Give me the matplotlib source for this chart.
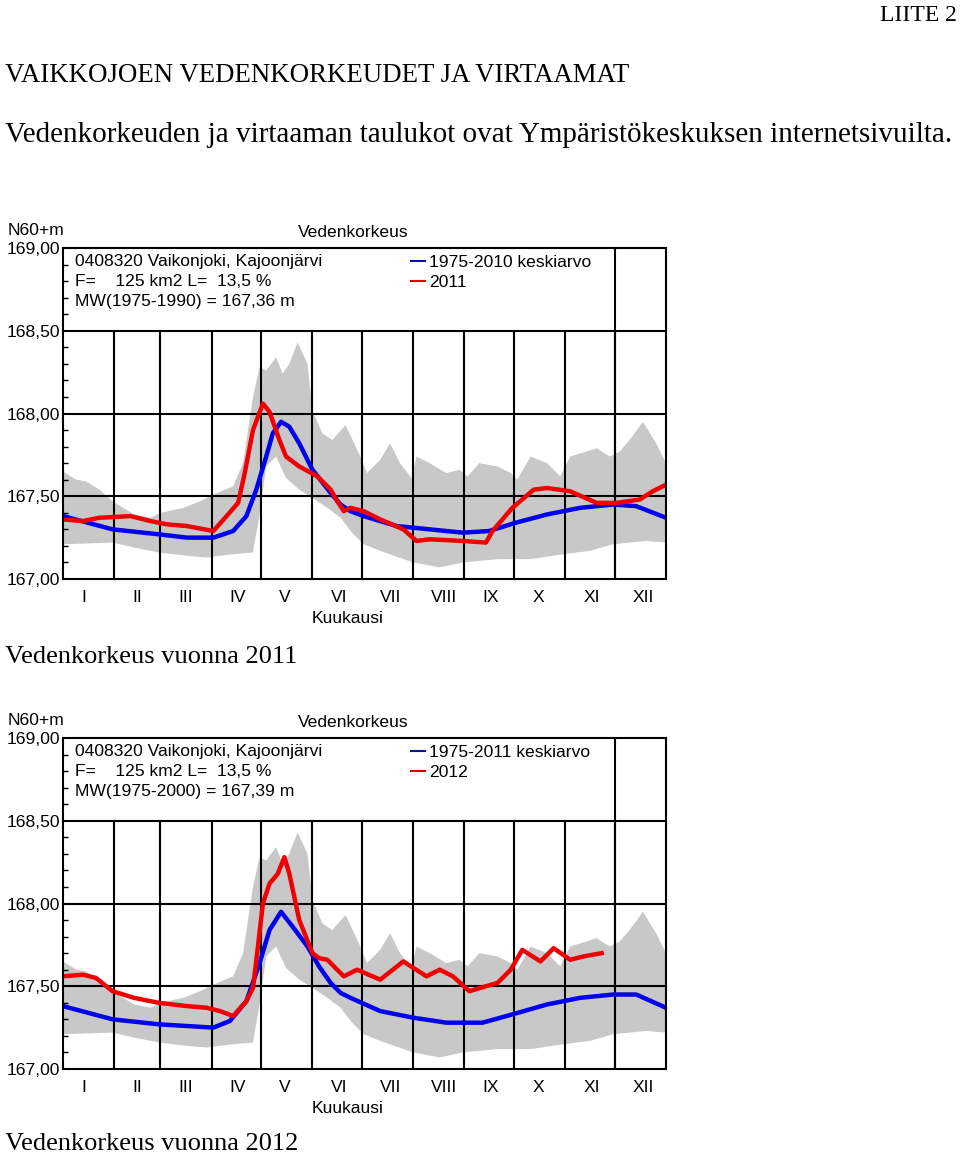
import matplotlib.pyplot as plt
from matplotlib.lines import Line2D
from matplotlib.ticker import MultipleLocator
import numpy as np

# month starts (day of year) and labels
month_start = [0, 31, 59, 90, 120, 151, 181, 212, 243, 273, 304, 334, 365]
month_lab = ["I", "II", "III", "IV", "V", "VI", "VII", "VIII", "IX", "X", "XI", "XII"]
ytick_vals = [167.0, 167.5, 168.0, 168.5, 169.0]
ytick_lab = ["167,00", "167,50", "168,00", "168,50", "169,00"]

# min/max envelope (grey), same in both charts
up_day = [0, 8, 14, 22, 30, 43, 53, 59, 73, 83, 91, 103, 109, 115, 119, 123, 129, 133,
          137, 142, 148, 151, 157, 163, 171, 180, 184, 192, 198, 204, 211, 214, 222,
          232, 240, 245, 252, 263, 271, 275, 283, 293, 301, 307, 323, 331, 337, 343,
          351, 359, 365]
up_val = [167.65, 167.60, 167.59, 167.54, 167.47, 167.39, 167.37, 167.40, 167.43, 167.47,
          167.51, 167.56, 167.70, 168.10, 168.28, 168.26, 168.34, 168.24, 168.30, 168.43,
          168.30, 168.02, 167.88, 167.84, 167.93, 167.74, 167.64, 167.72, 167.82, 167.70,
          167.61, 167.74, 167.70, 167.64, 167.66, 167.62, 167.70, 167.68, 167.64, 167.60,
          167.74, 167.70, 167.62, 167.74, 167.79, 167.74, 167.77, 167.84, 167.95, 167.82,
          167.70]
lo_day = [0, 30, 43, 58, 75, 87, 103, 115, 119, 123, 129, 135, 143, 151, 160, 168, 175,
          182, 192, 212, 228, 242, 263, 283, 303, 319, 333, 353, 365]
lo_val = [167.21, 167.22, 167.19, 167.16, 167.14, 167.13, 167.15, 167.16, 167.39, 167.68,
          167.74, 167.61, 167.54, 167.49, 167.43, 167.37, 167.28, 167.21, 167.17, 167.10,
          167.07, 167.10, 167.12, 167.12, 167.15, 167.17, 167.21, 167.23, 167.22]

# chart 1: mean 1975-2010 and year 2011
mean1_day = [0, 30, 58, 75, 91, 103, 111, 117, 123, 127, 132, 137, 143, 151, 162, 168,
             174, 182, 202, 222, 242, 258, 274, 293, 313, 333, 347, 365]
mean1_val = [167.38, 167.30, 167.27, 167.25, 167.25, 167.29, 167.38, 167.54, 167.74,
             167.88, 167.95, 167.92, 167.82, 167.66, 167.52, 167.45, 167.41, 167.38,
             167.32, 167.30, 167.28, 167.29, 167.34, 167.39, 167.43, 167.45, 167.44,
             167.37]
y2011_day = [0, 12, 22, 41, 53, 63, 75, 91, 99, 106, 110, 115, 121, 125, 131, 135, 143,
             154, 162, 166, 170, 174, 182, 192, 206, 214, 222, 242, 256, 260, 272, 285,
             293, 307, 323, 335, 349, 357, 365]
y2011_val = [167.36, 167.35, 167.37, 167.38, 167.35, 167.33, 167.32, 167.29, 167.38,
             167.46, 167.64, 167.90, 168.06, 168.01, 167.84, 167.74, 167.68, 167.62,
             167.54, 167.47, 167.41, 167.43, 167.41, 167.36, 167.30, 167.23, 167.24,
             167.23, 167.22, 167.29, 167.43, 167.54, 167.55, 167.53, 167.46, 167.46,
             167.48, 167.53, 167.57]

# chart 2: mean 1975-2011 and year 2012
mean2_day = [0, 30, 58, 91, 101, 111, 119, 125, 132, 139, 148, 155, 162, 168, 174, 192,
             212, 232, 254, 272, 293, 313, 333, 347, 365]
mean2_val = [167.38, 167.30, 167.27, 167.25, 167.29, 167.41, 167.64, 167.84, 167.95,
             167.86, 167.74, 167.62, 167.52, 167.46, 167.43, 167.35, 167.31, 167.28,
             167.28, 167.33, 167.39, 167.43, 167.45, 167.45, 167.37]
y2012_day = [0, 12, 20, 30, 43, 58, 75, 87, 95, 103, 111, 115, 118, 121, 125, 130, 134,
             137, 143, 151, 155, 160, 166, 170, 178, 192, 206, 220, 228, 236, 246, 256,
             263, 271, 278, 289, 297, 307, 315, 326]
y2012_val = [167.56, 167.57, 167.55, 167.47, 167.43, 167.40, 167.38, 167.37, 167.35,
             167.32, 167.41, 167.49, 167.74, 168.00, 168.12, 168.18, 168.28, 168.18,
             167.90, 167.70, 167.67, 167.66, 167.60, 167.56, 167.60, 167.54, 167.65,
             167.56, 167.60, 167.56, 167.47, 167.50, 167.52, 167.60, 167.72, 167.65,
             167.73, 167.66, 167.68, 167.70]

W, H = 960, 1155
SERIF = "Liberation Serif"
SANS = "Liberation Sans"
FS = 12.6

fig = plt.figure(figsize=(W / 100, H / 100), dpi=100)


def fx(x):
    return x / W


def fy(y):
    return 1 - y / H


def draw_chart(top, mean_d, mean_v, yr_d, yr_v, mean_lab, yr_lab, mw_txt):
    ax = fig.add_axes([fx(63), fy(top + 331), 603 / W, 331 / H])
    ax.fill(np.r_[up_day, lo_day[::-1]], np.r_[up_val, lo_val[::-1]],
            color="#c8c8c8", lw=0, zorder=1)
    ax.vlines(month_start[1:-1], 167.0, 168.5, color="black", lw=1.5, zorder=2)
    ax.vlines(334, 167.0, 169.0, color="black", lw=1.5, zorder=2)
    ax.hlines([167.5, 168.0, 168.5], 0, 365, color="black", lw=1.5, zorder=2)
    ax.plot(mean_d, mean_v, color="#0000f0", lw=3.2, zorder=3)
    ax.plot(yr_d, yr_v, color="#f00000", lw=3.2, zorder=4)
    ax.set_xlim(0, 365)
    ax.set_ylim(167.0, 169.0)
    for s in ax.spines.values():
        s.set_linewidth(1.5)
        s.set_zorder(5)
    ax.set_yticks(ytick_vals)
    ax.set_yticklabels(ytick_lab, family=SANS, fontsize=FS)
    ax.yaxis.set_minor_locator(MultipleLocator(0.1))
    ax.tick_params(axis="y", which="major", length=0, pad=2)
    ax.tick_params(axis="y", which="minor", direction="in", length=3.5, width=1)
    ax.set_xticks([m + 11 for m in month_start[:-1]])
    ax.set_xticklabels(month_lab, family=SANS, fontsize=FS, ha="left")
    ax.tick_params(axis="x", length=0, pad=8)

    kw = dict(family=SANS, fontsize=FS, va="baseline")
    fig.text(fx(8), fy(top - 13), "N60+m", **kw)
    fig.text(fx(353), fy(top - 11), "Vedenkorkeus", ha="center", **kw)
    fig.text(fx(348), fy(top + 375), "Kuukausi", ha="center", **kw)
    fig.text(fx(75), fy(top + 18), "0408320 Vaikonjoki, Kajoonjärvi", **kw)
    fig.text(fx(75), fy(top + 38), "F=    125 km2 L=  13,5 %", **kw)
    fig.text(fx(75), fy(top + 58), mw_txt, **kw)
    fig.text(fx(429), fy(top + 19), mean_lab, **kw)
    fig.text(fx(429), fy(top + 39), yr_lab, **kw)
    fig.add_artist(Line2D([fx(411), fx(425)], [fy(top + 13), fy(top + 13)],
                          transform=fig.transFigure, color="#1010a0", lw=1.5))
    fig.add_artist(Line2D([fx(411), fx(425)], [fy(top + 33), fy(top + 33)],
                          transform=fig.transFigure, color="#e00000", lw=1.5))
    return ax


fig.text(fx(957), fy(21), "LIITE 2", family=SERIF, fontsize=17, ha="right", va="baseline")
fig.text(fx(5), fy(82), "VAIKKOJOEN VEDENKORKEUDET JA VIRTAAMAT",
         family=SERIF, fontsize=19.4, va="baseline")
fig.text(fx(5), fy(142),
         "Vedenkorkeuden ja virtaaman taulukot ovat Ympäristökeskuksen internetsivuilta.",
         family=SERIF, fontsize=21, va="baseline")

draw_chart(248, mean1_day, mean1_val, y2011_day, y2011_val,
           "1975-2010 keskiarvo", "2011", "MW(1975-1990) = 167,36 m")
fig.text(fx(5), fy(663), "Vedenkorkeus vuonna 2011", family=SERIF, fontsize=19,
         va="baseline")

draw_chart(738, mean2_day, mean2_val, y2012_day, y2012_val,
           "1975-2011 keskiarvo", "2012", "MW(1975-2000) = 167,39 m")
fig.text(fx(5), fy(1150), "Vedenkorkeus vuonna 2012", family=SERIF, fontsize=19,
         va="baseline")

fig.savefig("out.png", dpi=100)
